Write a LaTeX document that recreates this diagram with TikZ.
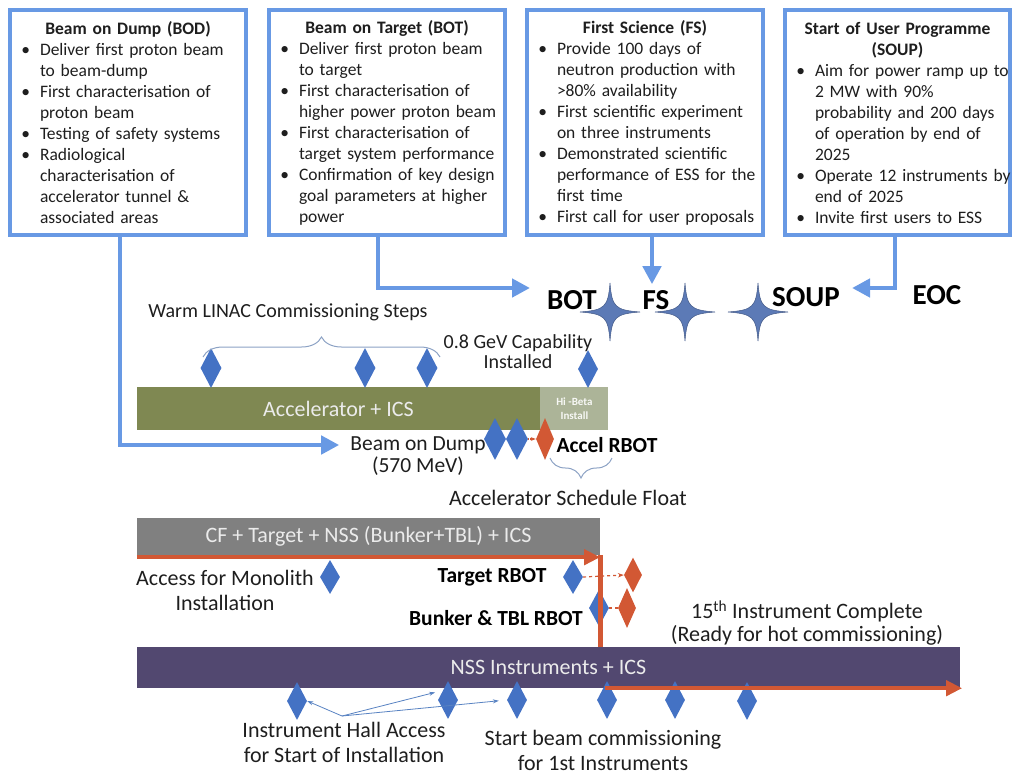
\documentclass[tikz,border=0pt]{standalone}
\usepackage{fontspec}
\setmainfont{Carlito}
\usepackage{enumitem}
\usetikzlibrary{arrows.meta, positioning, shapes.geometric, decorations.pathreplacing}

\definecolor{connblue}{RGB}{104,153,228}
\definecolor{msblue}{RGB}{68,114,196}
\definecolor{msred}{RGB}{210,88,52}
\definecolor{accgreen}{RGB}{127,136,82}
\definecolor{hbgreen}{RGB}{172,180,152}
\definecolor{cfgray}{RGB}{128,128,128}
\definecolor{nsspurple}{RGB}{82,72,112}
\definecolor{starblue}{RGB}{92,122,182}
\definecolor{bracecol}{RGB}{140,162,196}
\definecolor{txt}{RGB}{30,30,30}

\setlist[itemize]{label=\textbullet, leftmargin=26pt, labelsep=10pt, itemsep=0pt,
  topsep=0pt, parsep=0pt, partopsep=0pt}
\newcommand{\boxhead}[1]{{\centering\bfseries #1\par}}
\newcommand{\fullline}[1]{\makebox[0pt][l]{#1}}

\tikzset{sparkle/.pic={
  \fill[starblue, draw=starblue!75!black, line width=0.5pt]
    (0,-29) .. controls (2,-5) and (5,-2) .. (30,0)
    .. controls (5,2) and (2,5) .. (0,29)
    .. controls (-2,5) and (-5,2) .. (-30,0)
    .. controls (-5,-2) and (-2,-5) .. (0,-29) -- cycle;}}

\begin{document}
\begin{tikzpicture}[x=1pt, y=-1pt,
  node distance=0pt,
  infobox/.style={rectangle, draw=connblue, line width=4pt, fill=white,
                  inner xsep=4pt, inner ysep=0pt, text width=228pt,
                  minimum height=225pt, align=left, text=txt,
                  font=\fontsize{17.5}{21}\selectfont},
  bar/.style    ={rectangle, inner sep=0pt, text=white!92!black,
                  font=\fontsize{22}{25}\selectfont},
  mstone/.style ={diamond, fill=msblue, inner sep=0pt,
                  minimum width=20pt, minimum height=38pt},
  rstone/.style ={mstone, fill=msred},
  lbl/.style    ={align=center, text=txt, inner sep=2pt,
                  font=\fontsize{22}{25}\selectfont},
  slbl/.style   ={align=center, text=txt, inner sep=2pt,
                  font=\fontsize{20}{20}\selectfont},
  blbl/.style   ={text=black, inner sep=2pt,
                  font=\fontsize{21.5}{25}\selectfont\bfseries},
  mlbl/.style   ={text=black, inner sep=2pt,
                  font=\fontsize{29}{30}\selectfont\bfseries},
  conn/.style   ={draw=connblue, line width=4.5pt, -{Triangle[length=18pt,width=18pt]}},
  redarr/.style ={draw=msred, line width=4pt, -{Triangle[length=16pt,width=15pt]}},
  reddash/.style={draw=msred, line width=1.2pt, dashed},
  thinarr/.style={draw=connblue!85!black, line width=0.8pt, -{Stealth[length=6pt,width=4pt]}},
  brc/.style    ={draw=bracecol, line width=1pt, decorate,
                  decoration={brace, amplitude=20pt}}
]
\useasboundingbox (0,0) rectangle (1013,774);
% ---- Milestone boxes -------------------------------------------------------
\node[infobox] (bodbox) at (128,122.5) {\boxhead{Beam on Dump (BOD)}
\begin{itemize}
\item Deliver first proton beam\\to beam-dump
\item First characterisation of\\proton beam
\item Testing of safety systems
\item Radiological\\characterisation of\\accelerator tunnel \&\\associated areas
\end{itemize}};
\node[infobox] (botbox) at (387,122.5) {\boxhead{Beam on Target (BOT)}
\begin{itemize}
\item Deliver first proton beam\\to target
\item First characterisation of\\higher power proton beam
\item First characterisation of\\target system performance
\item Confirmation of key design\\goal parameters at higher\\power
\end{itemize}};
\node[infobox] (fsbox) at (645,122.5) {\boxhead{First Science (FS)}
\begin{itemize}
\item Provide 100 days of\\neutron production with\\>80\% availability
\item First scientific experiment\\on three instruments
\item Demonstrated scientific\\performance of ESS for the\\first time
\item First call for user proposals
\end{itemize}};
\node[infobox, text width=217pt] (soupbox) at (897.5,122.5) {\boxhead{Start of User Programme\\(SOUP)}
\begin{itemize}
\item \fullline{Aim for power ramp up to}\\2 MW with 90\%\\probability and 200 days\\of operation by end of\\2025
\item \fullline{Operate 12 instruments by}\\end of 2025
\item Invite first users to ESS
\end{itemize}};
% ---- Project milestones ----------------------------------------------------
\node[mlbl] (botlbl)  at (572,300) {BOT};
\node[mlbl] (fslbl)   at (656,300) {FS};
\node[mlbl] (souplbl) at (806,297) {SOUP};
\node[mlbl] (eoclbl)  at (937,295) {EOC};
\pic at (610,312) {sparkle};
\pic at (685,312) {sparkle};
\pic at (758,312) {sparkle};
% ---- Schedule bars ---------------------------------------------------------
\node[bar, fill=accgreen, minimum width=403pt, minimum height=43pt] (accbar) at (338.5,408.5) {Accelerator + ICS};
\node[bar, fill=hbgreen, minimum width=68pt, minimum height=43pt, align=center,
      text=white!90!hbgreen, font=\fontsize{11}{14}\selectfont\bfseries,
      right=of accbar] (hibeta) {Hi -Beta\\Install};
\node[bar, fill=cfgray, minimum width=463pt, minimum height=37pt] (cfbar) at (368.5,536.5) {CF + Target + NSS (Bunker+TBL) + ICS};
\node[bar, fill=nsspurple, minimum width=823pt, minimum height=41pt] (nssbar) at (548.5,667.5) {NSS Instruments + ICS};
% ---- Accelerator milestones ------------------------------------------------
\node[mstone, minimum width=21pt, minimum height=40pt] (w1) at (211,368) {};
\node[mstone, minimum width=21pt, minimum height=40pt] (w2) at (365,368) {};
\node[mstone, minimum width=21pt, minimum height=40pt] (w3) at (427,368) {};
\node[mstone] (gev) at (588,369) {};
\node[mstone, minimum width=22pt, minimum height=42pt] (bd1) at (495,439) {};
\node[mstone, minimum width=22pt, minimum height=42pt] (bd2) at (517,439) {};
\node[rstone, minimum width=18pt, minimum height=42pt] (ard) at (545,439) {};
\node[slbl] (warmlbl) at (288,312) {Warm LINAC Commissioning Steps};
\node[slbl] (gevlbl) at (518,352) {0.8 GeV Capability\\Installed};
\node[lbl, font=\fontsize{21.5}{22}\selectfont] (bodlbl) at (418,456) {Beam on Dump\\(570 MeV)};
\node[blbl] (arblbl) at (607,445) {Accel RBOT};
\node[lbl] (floatlbl) at (568,498) {Accelerator Schedule Float};
\draw[brc] (203,357) -- (440,357);
\draw[brc] (612,458) -- (550,458);
\draw[draw=msred, line width=1.2pt, densely dotted, -{Stealth[length=5pt]}] (bd2.east) -- (ard.west);
% ---- Target and NSS milestones ---------------------------------------------
\node[mstone, minimum height=34pt] (mono) at (330,577) {};
\node[mstone, minimum height=34pt] (tgt) at (573,577) {};
\node[rstone, minimum width=18pt, minimum height=35pt] (tgtr) at (633,575) {};
\node[mstone, minimum height=37pt] (bnk) at (599,608) {};
\node[rstone, minimum width=18pt, minimum height=40pt] (bnkr) at (627,608) {};
\node[lbl] (monolbl) at (225,590) {Access for Monolith\\Installation};
\node[blbl] (tgtlbl) at (492,577) {Target RBOT};
\node[blbl] (bnklbl) at (496,618) {Bunker \& TBL RBOT};
\node[lbl, font=\fontsize{22}{23}\selectfont] (complbl) at (807,623) {15\textsuperscript{th} Instrument Complete\\(Ready for hot commissioning)};
\draw[redarr] ([yshift=-2pt]cfbar.south west) -- ([yshift=-2pt]cfbar.south east);
\draw[draw=msred, line width=5pt] (cfbar.south east) -- (cfbar.south east |- nssbar.north);
\draw[reddash, -{Stealth[length=6pt]}] (tgt.east) -- (tgtr.west);
\draw[reddash] (bnk.east) -- (bnkr.west);
% ---- Instrument milestones -------------------------------------------------
\node[mstone] (ih1) at (297,701) {};
\node[mstone] (ih2) at (448,700) {};
\node[mstone] (ih3) at (517,700) {};
\node[mstone] (sb1) at (607,700) {};
\node[mstone] (sb2) at (675,700) {};
\node[mstone] (sb3) at (747,701) {};
\draw[redarr] ([xshift=5pt]cfbar.south east |- nssbar.south) -- ([xshift=2pt]nssbar.south east);
\node[lbl] (ihlbl) at (344,742) {Instrument Hall Access\\for Start of Installation};
\node[lbl] (sblbl) at (603,750) {Start beam commissioning\\for 1st Instruments};
\coordinate (ihsrc) at (342,716);
\draw[thinarr] (ihsrc) -- (ih1.east);
\draw[thinarr, shorten >=8pt] (ihsrc) -- (ih2.north west);
\draw[thinarr, shorten >=8pt] (ihsrc) -- (ih3.west);
% ---- Box connectors --------------------------------------------------------
\draw[conn, shorten >=9pt] ([xshift=-8pt]bodbox.south) |- ([yshift=11pt]bodlbl.west);
\draw[conn, shorten >=15pt] ([xshift=-9pt]botbox.south) |- ([yshift=12pt]botlbl.west);
\draw[conn, shorten >=4pt] ([xshift=7pt]fsbox.south) -- ([xshift=7pt]fsbox.south |- fslbl.north);
\draw[conn] ([xshift=-2.5pt]soupbox.south) |- ([xshift=10pt,yshift=9pt]souplbl.east);
\end{tikzpicture}
\end{document}
